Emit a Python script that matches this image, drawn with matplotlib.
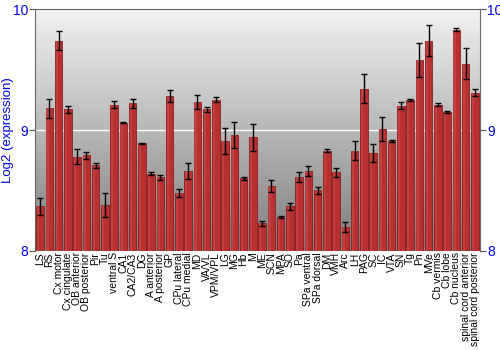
import numpy as np
import matplotlib
matplotlib.use("Agg")
import matplotlib.pyplot as plt
from matplotlib.colors import LinearSegmentedColormap

regions = [
    "LS", "RS", "Cx motor", "Cx cingulate", "OB anterior", "OB posterior",
    "Pir", "Tu", "ventral S", "CA1", "CA2/CA3", "DG", "A anterior",
    "A posterior", "GP", "CPu lateral", "CPu medial", "MD", "VA/VL",
    "VPM/VPL", "LG", "MG", "Hb", "M", "ME", "SCN", "MPA", "SO", "Pa",
    "SPa ventral", "SPa dorsal", "DM", "VMH", "Arc", "LH", "PAG", "SC", "IC",
    "VTA", "SN", "Tg", "Pn", "MVe", "Cb vermis", "Cb lobe", "Cb nucleus",
    "spinal cord anterior", "spinal cord posterior",
]
expression = [
    8.37, 9.18, 9.74, 9.17, 8.78, 8.79, 8.71, 8.38, 9.21, 9.06, 9.22, 8.89,
    8.64, 8.61, 9.28, 8.48, 8.66, 9.23, 9.17, 9.25, 8.91, 8.96, 8.60, 8.94,
    8.23, 8.54, 8.28, 8.37, 8.61, 8.66, 8.50, 8.83, 8.65, 8.20, 8.83, 9.34,
    8.81, 9.01, 8.91, 9.20, 9.25, 9.58, 9.74, 9.21, 9.15, 9.83, 9.55, 9.31,
]
errors = [
    0.07, 0.08, 0.08, 0.03, 0.065, 0.03, 0.02, 0.10, 0.03, 0.005, 0.04, 0.005,
    0.01, 0.02, 0.05, 0.03, 0.065, 0.06, 0.02, 0.02, 0.11, 0.11, 0.015, 0.11,
    0.02, 0.05, 0.01, 0.03, 0.04, 0.04, 0.03, 0.01, 0.04, 0.04, 0.08, 0.12,
    0.075, 0.10, 0.01, 0.03, 0.01, 0.14, 0.13, 0.01, 0.01, 0.01, 0.13, 0.03,
]


def main():
    plt.rcParams["font.family"] = ["Liberation Sans", "DejaVu Sans"]
    fig = plt.figure(figsize=(5, 3.5), dpi=100)
    ax = fig.add_axes([0.07, 0.283, 0.89, 0.691])

    # grey gradient background
    grad = np.linspace(0, 1, 256).reshape(-1, 1)
    cmap = LinearSegmentedColormap.from_list("bg", ["#7d7d7d", "#f2f2f2"])
    ax.imshow(grad, extent=[0, 1, 0, 1], transform=ax.transAxes,
              aspect="auto", cmap=cmap, origin="lower", zorder=0)

    x = np.arange(len(regions))
    ax.axhline(9, color="white", lw=1, zorder=1)
    ax.bar(x, np.array(expression) - 8, bottom=8, width=0.82,
           color="#b83030", edgecolor="#8c1d1d", linewidth=0.6, zorder=2)
    # lighter stripe for a bit of shading
    ax.bar(x - 0.2, np.array(expression) - 8, bottom=8, width=0.25,
           color="#cc5050", linewidth=0, alpha=0.5, zorder=2)
    ax.errorbar(x, expression, yerr=errors, fmt="none", ecolor="black",
                elinewidth=1, capsize=2, capthick=1, zorder=3)

    ax.set_xlim(-0.55, len(regions) - 0.45)
    ax.set_ylim(8, 10)
    ax.set_yticks([8, 9, 10])
    ax.set_yticklabels(["8", "9", "10"])
    ax.tick_params(axis="y", labelcolor="#0000ee", labelsize=10, length=4,
                   right=True, labelright=True, direction="out", pad=1,
                   color="#555555")
    ax.set_xticks(x)
    ax.set_xticklabels(regions, rotation=90, fontsize=7.5)
    ax.tick_params(axis="x", length=0, pad=1)
    ax.set_ylabel("Log2 (expression)", color="#0000ee", fontsize=9.5)
    ax.yaxis.set_label_coords(-0.047, 0.5)

    for side in ["top", "left", "right"]:
        ax.spines[side].set_color("#666666")
    ax.spines["bottom"].set_visible(False)

    fig.savefig("out.png", dpi=100)


if __name__ == "__main__":
    main()
